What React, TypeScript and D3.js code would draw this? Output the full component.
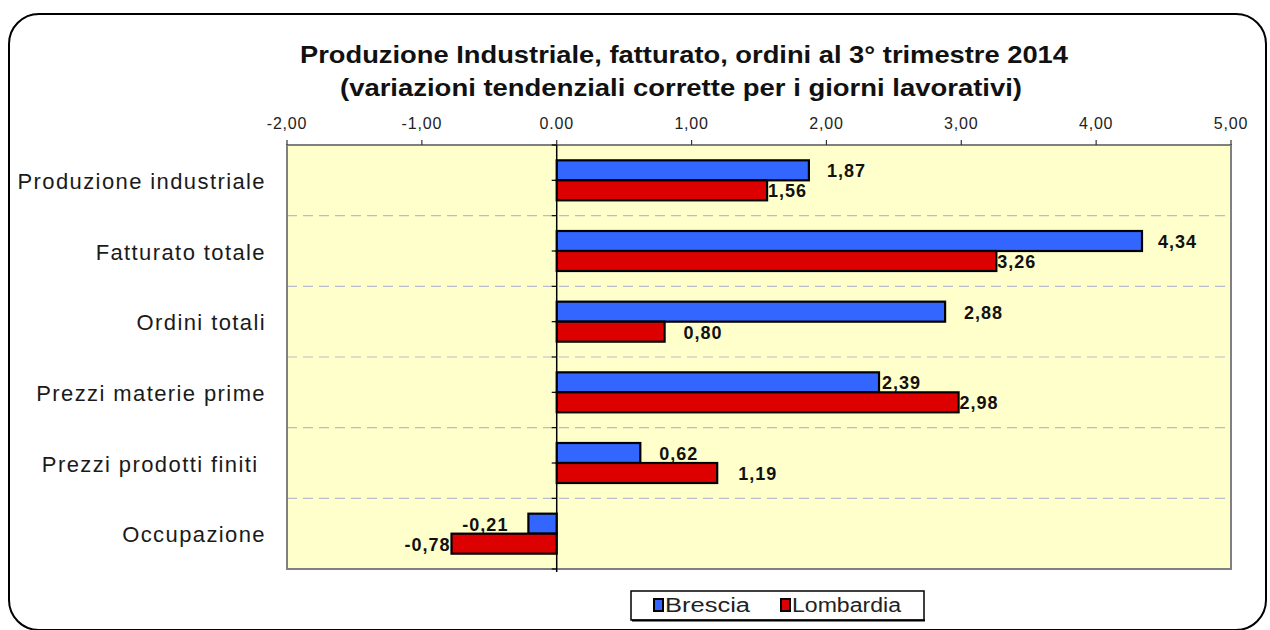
import React from "react";
import * as d3 from "d3";

const categories = [
  "Produzione industriale",
  "Fatturato totale",
  "Ordini totali",
  "Prezzi materie prime",
  "Prezzi prodotti finiti ",
  "Occupazione",
];
const seriesNames = ["Brescia", "Lombardia"];
const brescia = [1.87, 4.34, 2.88, 2.39, 0.62, -0.21];
const lombardia = [1.56, 3.26, 0.8, 2.98, 1.19, -0.78];
const xTicks = [-2, -1, 0, 1, 2, 3, 4, 5];
const xTickLabels = ["-2,00", "-1,00", "0.00", "1,00", "2,00", "3,00", "4,00", "5,00"];
const titleLines = [
  "Produzione Industriale, fatturato, ordini al 3° trimestre 2014",
  "(variazioni tendenziali corrette per i giorni lavorativi)",
];

// layout only: gap between bar end and its value label
const labelGaps = [
  [18, 16, 19, 3, 19, 20],
  [1, 1, 19, 1, 21, 1],
];

const W = 1270;
const H = 630;
const plot = { left: 287, right: 1231, top: 145, bottom: 569 };
const colors = ["#3366ff", "#dd0000"];
const fmt = (v: number) => d3.format(".2f")(v).replace(".", ",").replace("−", "-");

const App = () => {
  const x = d3.scaleLinear().domain([-2, 5]).range([plot.left, plot.right]);
  const y = d3.scaleBand<string>().domain(categories).range([plot.top, plot.bottom]);
  const barH = 20;
  const sub = d3
    .scaleBand<string>()
    .domain(seriesNames)
    .range([-barH, barH]);
  const values = [brescia, lombardia];
  const step = y.bandwidth();
  const halfTicks = d3.range(categories.length * 2 + 1).map((i) => plot.top + (i * step) / 2);

  return (
    <svg
      width={W}
      height={H}
      style={{ position: "absolute", left: 0, top: 0, background: "#fff" }}
      fontFamily="'Liberation Sans', Arial, sans-serif"
    >
      <rect x={9} y={14} width={1257} height={616} rx={30} fill="#fff" stroke="#000" strokeWidth={2} />

      {/* title */}
      <g fontWeight="bold" fill="#111" textAnchor="middle">
        <text x={684} y={63} fontSize={24} textLength={768} lengthAdjust="spacingAndGlyphs">
          {titleLines[0]}
        </text>
        <text x={681} y={96} fontSize={24} textLength={682} lengthAdjust="spacingAndGlyphs">
          {titleLines[1]}
        </text>
      </g>

      {/* plot area */}
      <rect
        x={plot.left}
        y={plot.top}
        width={plot.right - plot.left}
        height={plot.bottom - plot.top}
        fill="#ffffcc"
      />
      {categories.slice(1).map((c) => (
        <line
          key={c}
          x1={plot.left}
          x2={plot.right}
          y1={y(c)}
          y2={y(c)}
          stroke="#b8bccc"
          strokeWidth={1.2}
          strokeDasharray="10,6"
        />
      ))}
      <rect
        x={plot.left}
        y={plot.top}
        width={plot.right - plot.left}
        height={plot.bottom - plot.top}
        fill="none"
        stroke="#808080"
        strokeWidth={2}
      />

      {/* x axis on top */}
      <g>
        {xTicks.map((t, i) => (
          <g key={t}>
            <line x1={x(t)} x2={x(t)} y1={plot.top - 5} y2={plot.top} stroke="#333" strokeWidth={1.2} />
            <text
              x={x(t)}
              y={129}
              textAnchor="middle"
              fontSize={16}
              letterSpacing={0.8}
              fill="#222"
            >
              {xTickLabels[i]}
            </text>
          </g>
        ))}
      </g>

      {/* bars */}
      {values.map((vals, s) => (
        <g key={seriesNames[s]}>
          {vals.map((v, i) => {
            const yc = (y(categories[i]) as number) + step / 2;
            const by = yc + (sub(seriesNames[s]) as number);
            return (
              <rect
                key={i}
                x={Math.min(x(0), x(v))}
                y={by}
                width={Math.abs(x(v) - x(0))}
                height={sub.bandwidth()}
                fill={colors[s]}
                stroke="#000"
                strokeWidth={2.2}
              />
            );
          })}
        </g>
      ))}

      {/* zero axis */}
      <line x1={x(0)} x2={x(0)} y1={plot.top} y2={plot.bottom + 3} stroke="#000" strokeWidth={1.5} />
      {halfTicks.map((t, i) => (
        <line key={i} x1={x(0) - 5} x2={x(0)} y1={t} y2={t} stroke="#000" strokeWidth={1.2} />
      ))}

      {/* value labels */}
      {values.map((vals, s) => (
        <g key={"l" + s} fontWeight="bold" fontSize={18} fill="#111" letterSpacing={1}>
          {vals.map((v, i) => {
            const yc = (y(categories[i]) as number) + step / 2;
            const by = yc + (sub(seriesNames[s]) as number) + sub.bandwidth() / 2;
            const gap = labelGaps[s][i];
            return (
              <text
                key={i}
                x={v >= 0 ? x(v) + gap : x(v) - gap}
                y={by + 1}
                dominantBaseline="central"
                textAnchor={v >= 0 ? "start" : "end"}
              >
                {fmt(v)}
              </text>
            );
          })}
        </g>
      ))}

      {/* category labels */}
      <g fontSize={22} fill="#1a1a1a" textAnchor="end" letterSpacing={1.4}>
        {categories.map((c) => (
          <text
            key={c}
            x={266}
            y={(y(c) as number) + step / 2 + 1}
            dominantBaseline="central"
            style={{ whiteSpace: "pre" }}
          >
            {c}
          </text>
        ))}
      </g>

      {/* legend */}
      <g>
        <rect x={631} y={591} width={293} height={29} fill="#fff" stroke="#000" strokeWidth={1.5} />
        <line x1={632} x2={925} y1={620.5} y2={620.5} stroke="#000" strokeWidth={2} />
        {seriesNames.map((n, i) => {
          const lx = [654, 781][i];
          const tw = [85, 109][i];
          return (
            <g key={n}>
              <rect x={lx} y={599} width={9} height={12} fill={colors[i]} stroke="#000" strokeWidth={2} />
              <text
                x={lx + 11}
                y={612}
                fontSize={20}
                fill="#222"
                textLength={tw}
                lengthAdjust="spacingAndGlyphs"
              >
                {n}
              </text>
            </g>
          );
        })}
      </g>
    </svg>
  );
};

export default App;
